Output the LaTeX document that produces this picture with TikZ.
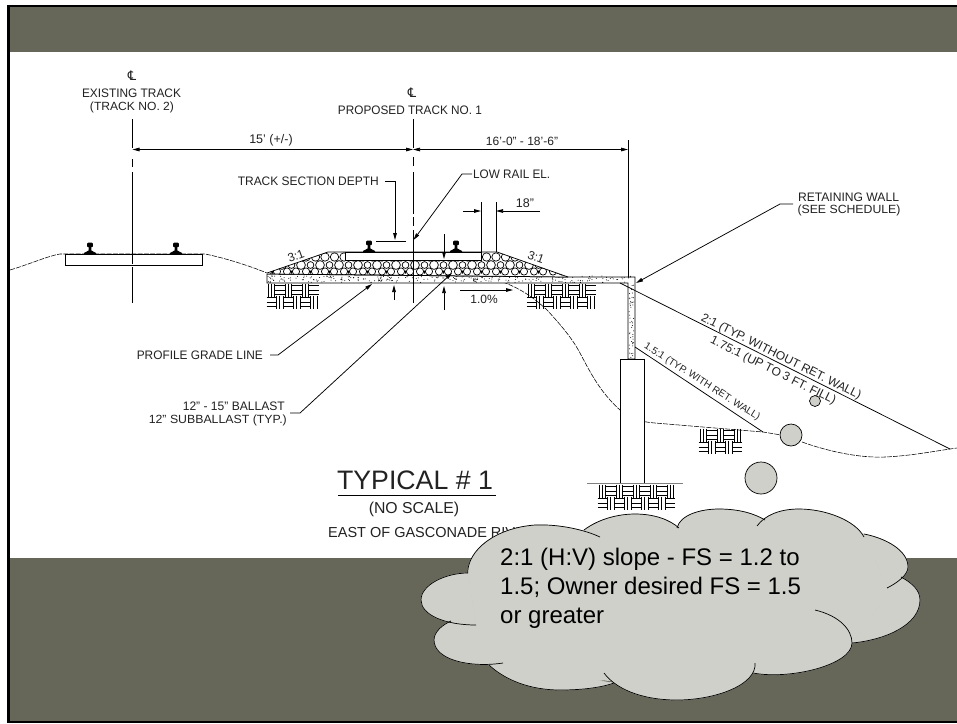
\documentclass[tikz,border=0pt]{standalone}
\usepackage{fontspec}
\usepackage{graphicx}
\usetikzlibrary{arrows.meta}
\setmainfont{Liberation Sans}
\newfontfamily\djv{DejaVu Sans}
\definecolor{bandc}{HTML}{666759}
\definecolor{cloudc}{HTML}{CFD0CA}
\definecolor{inkc}{HTML}{222222}
\tikzset{
  cadtext/.style={text=inkc,inner sep=0pt},
  dimtext/.style={text=inkc,inner sep=0pt,font=\fontsize{12}{14}\selectfont},
  slopetext/.style={text=inkc,inner sep=0pt,font=\fontsize{12}{14}\selectfont},
  cloudtext/.style={inner sep=0pt,anchor=base west,text=black,font=\fontsize{24}{29}\selectfont},
  cltext/.style={inner sep=0pt,text=inkc,font=\djv\fontsize{13}{14}\selectfont},
  ln/.style={draw=black,line width=0.75pt},
  ground/.style={draw=black,line width=0.55pt,dash pattern=on 5pt off 1.2pt},
  arr/.style={ln,-{Triangle[length=7pt,width=3.6pt]}},
  darr/.style={ln,{Triangle[length=7pt,width=3.6pt]}-{Triangle[length=7pt,width=3.6pt]}},
  lobe/.style={draw=black,line width=0.7pt},
  cloudbody/.style={fill=cloudc,draw=cloudc,line width=0.6pt},
  stone/.style={fill=cloudc,draw=black,line width=0.7pt},
  weaveline/.style={draw=black,line width=0.7pt}
}
\newcommand{\fitw}[2]{\resizebox{#1pt}{8.6pt}{#2}}
\newcommand{\trackrail}[2]{%
  \fill[black] (#1-6,#2) -- (#1-6,#2-1) -- (#1-1.4,#2-3.5) -- (#1-1.2,#2-6.5) -- (#1-2.8,#2-7.5)
    -- (#1-2.8,#2-10.5) -- (#1-1.5,#2-11.5) -- (#1+1.5,#2-11.5) -- (#1+2.8,#2-10.5) -- (#1+2.8,#2-7.5)
    -- (#1+1.2,#2-6.5) -- (#1+1.4,#2-3.5) -- (#1+6,#2-1) -- (#1+6,#2) -- cycle;}
\newcommand{\weaveblock}[4]{% x0 y0 cols rows
  \foreach \c in {1,...,#3}{\foreach \r in {1,...,#4}{
    \pgfmathsetmacro{\xa}{#1+(\c-1)*8.5}
    \pgfmathsetmacro{\ya}{#2+(\r-1)*12}
    \pgfmathtruncatemacro{\parit}{mod(\c+\r,2)}
    \ifnum\parit=0
      \foreach \k in {1,4.25,7.5}{\draw[weaveline] (\xa+\k,\ya-0.5) -- (\xa+\k,\ya+12.5);}
    \else
      \foreach \k in {1.5,6,10.5}{\draw[weaveline] (\xa-0.5,\ya+\k) -- (\xa+9,\ya+\k);}
    \fi
  }}}
\newcommand{\lobefill}[1]{\path[cloudbody] #1 -- cycle;}
\newcommand{\lobedraw}[1]{\draw[lobe] #1;}
\newcommand{\cloudlobes}[1]{%
#1{(467.6,573) .. controls (468,550) and (495,528) .. (535,525) .. controls (560,524) and (585,530) .. (600,537)}
#1{(584,530) .. controls (600,518) and (620,514) .. (635,514) .. controls (655,514) and (670,520) .. (679,528)}
#1{(677,528) .. controls (680,515) and (700,509) .. (719,509) .. controls (740,509) and (755,514) .. (765,520)}
#1{(757,526) .. controls (765,515) and (780,509) .. (799,509) .. controls (825,509) and (855,520) .. (864,537)}
#1{(864,534) .. controls (885,538) and (908,550) .. (908,567) .. controls (908,575) and (897,583) .. (887,588)}
#1{(901,577) .. controls (912,583) and (920,590) .. (920,600) .. controls (920,625) and (885,640) .. (852,643)}
#1{(815,610) .. controls (840,616) and (852,630) .. (852,643) .. controls (852,665) and (790,680) .. (753,673)}
#1{(755,663) .. controls (757,685) and (715,700) .. (677,700) .. controls (640,700) and (615,688) .. (604,673)}
#1{(614,683) .. controls (600,688) and (580,690) .. (560,690) .. controls (530,690) and (505,680) .. (489,665)}
#1{(503,663) .. controls (470,668) and (434,660) .. (434,640) .. controls (434,632) and (442,625) .. (451,621)}
#1{(476,625) .. controls (445,625) and (421,615) .. (421,600) .. controls (421,585) and (445,573) .. (468,573)}
}
\begin{document}
\begin{tikzpicture}[x=1pt,y=-1pt]
\useasboundingbox (0,0) rectangle (957,723);
\fill[white] (0,0) rectangle (957,723);
% bands
\fill[bandc] (8,6) rectangle (957,52);
\fill[bandc] (8,558) rectangle (957,722);
\fill[black] (7.3,4.6) rectangle (957,7);
\fill[black] (7.3,4.6) rectangle (9.7,723);
\fill[black] (7.3,721) rectangle (957,723);

% centre lines
\foreach \a/\b in {119/148,159/167,172/257,261/264,267/303}{\draw[ln] (132.5,\a) -- (132.5,\b);}
\foreach \a/\b in {119/148,157/166,172/214,217/226,230/303}{\draw[ln] (413,\a) -- (413,\b);}
\node[cltext] (cl1) at (132,76) {℄};
\node[cltext] (cl2) at (412,93) {℄};
\node[cadtext] (exist1) at (131.5,93) {\fitw{99}{EXISTING TRACK}};
\node[cadtext] (exist2) at (132,107.5) {\fitw{84}{(TRACK NO. 2)}};
\node[cadtext] (prop) at (410,110) {\fitw{144}{PROPOSED TRACK NO. 1}};

% dimension line
\coordinate (d1) at (132.5,149.5);
\coordinate (d2) at (413,149.5);
\coordinate (d3) at (628,149.5);
\draw[darr] (d1) -- (d2);
\draw[darr] (d2) -- (d3);
\draw[ln] (628,140) -- (628,277);
\node[dimtext,font=\fontsize{12.5}{14}\selectfont] (t15) at (271,140) {15' (+/-)};
\node[dimtext] (t16) at (522,141) {16'-0" - 18'-6"};

% ground
\draw[ground] (10,270) .. controls (30,264) and (48,256) .. (60,254) -- (205,254)
  .. controls (225,258) and (250,266) .. (267,273);
\draw[ground] (497,280) .. controls (515,286) and (530,294) .. (547,310)
  .. controls (560,324) and (572,338) .. (580,353) .. controls (590,372) and (600,392) .. (620,410)
  .. controls (630,418) and (640,422) .. (655,423) -- (703,427) -- (763,432) -- (781,435);
\draw[ground] (802,442) .. controls (830,452) and (860,458) .. (885,457) .. controls (910,456) and (935,451) .. (957,448);

% existing track
\draw[ln,fill=white] (65,254) rectangle (202,265);
\draw[ln] (132.5,254) -- (132.5,264);
\trackrail{90}{254}
\trackrail{176}{254}

% subballast slab and wall
\path[fill=white] (267,274) -- (568,277) -- (635,277) -- (635,283) -- (267,283) -- cycle;
\draw[ln] (267,274) -- (267,283) -- (628,283) -- (628,359) -- (635,359) -- (635,277) -- (568,277) -- cycle;
\pgfmathsetseed{11}
\foreach \i in {1,...,260}{
  \pgfmathsetmacro{\dx}{268+rnd*366}
  \pgfmathsetmacro{\dy}{276+rnd*6.5}
  \fill[black] (\dx,\dy) circle (0.5);
}
\foreach \i in {1,...,45}{
  \pgfmathsetmacro{\dx}{629+rnd*5}
  \pgfmathsetmacro{\dy}{284+rnd*74}
  \fill[black] (\dx,\dy) circle (0.5);
}

% ballast
\begin{scope}
\clip (267,273) -- (328,252) -- (497,252) -- (568,277) -- (267,274) -- cycle;
\fill[white] (267,273) -- (328,252) -- (497,252) -- (568,277) -- cycle;
\foreach \n in {0,...,16}{
  \draw[black,line width=0.7pt,fill=white] (258.5+\n*19,257) circle (4.2);
  \draw[black,line width=0.7pt,fill=white] (268+\n*19,257) circle (4.2);
  \draw[black,line width=0.7pt,fill=white] (263+\n*19,265) circle (4.4);
  \draw[black,line width=0.7pt,fill=white] (272.5+\n*19,265) circle (3.4);
  \draw[black,line width=0.7pt,fill=white] (268+\n*19,271.5) circle (3.6);
  \draw[black,line width=0.7pt,fill=white] (277+\n*19,271.5) circle (3.6);
  \fill[black] (272.5+\n*19,270.5) -- ++(-1.5,0) -- ++(1.5,3.5) -- ++(1.5,-3.5) -- cycle;
}
\end{scope}
\draw[ln] (267,273) -- (328,252) -- (497,252) -- (568,277);
\draw[ln,fill=white] (345,252) rectangle (481,260);
\draw[ln] (267,274) -- (568,277);
\draw[ln] (413,230) -- (413,303);
\trackrail{369}{252}
\trackrail{456}{252}
\node[dimtext,rotate=20] (s31a) at (296,256) {3:1};
\node[dimtext,rotate=-20] (s31b) at (536,257) {3:1};

% mesh blocks
\weaveblock{267}{284}{6}{2}
\weaveblock{527}{284}{8}{2}
\weaveblock{699}{429}{5}{2}
\weaveblock{598}{485}{9}{2}

% pier and footing line
\draw[ln,fill=white] (620,359) rectangle (644,483);
\draw[gray,line width=0.5pt] (587,483) -- (683,483);

% slopes
\coordinate (sa1) at (620,283);
\coordinate (sa2) at (950,449);
\coordinate (sb1) at (635,347);
\coordinate (sb2) at (763,432);
\draw[ln] (sa1) -- (sa2);
\draw[ln] (sb1) -- (sb2);
\node[slopetext,rotate=-26.5] (sl1) at (781,357) {2:1 (TYP. WITHOUT RET. WALL)};
\node[slopetext,rotate=-26.5] (sl2) at (773,371) {1.75:1 (UP TO 3 FT. FILL)};
\node[slopetext,rotate=-32.5,font=\fontsize{10}{11}\selectfont] (sl3) at (702,382) {1.5:1 (TYP. WITH RET. WALL)};

% boulders
\draw[stone] (815,401) circle (5.5);
\draw[stone] (791,435) circle (11);
\draw[stone] (761,478) circle (16);

% 18 inch dim
\draw[ln] (481,202) -- (481,252);
\draw[ln] (496,202) -- (496,252);
\coordinate (e1) at (463,211); \coordinate (e2) at (481,211);
\coordinate (e3) at (540,211); \coordinate (e4) at (496,211);
\draw[arr] (e1) -- (e2);
\draw[arr] (e3) -- (e4);
\node[dimtext,font=\fontsize{12.5}{14}\selectfont] (t18) at (525,203) {18"};

% track section depth
\node[cadtext,anchor=east] (tsd) at (379,181) {\fitw{141}{TRACK SECTION DEPTH}};
\coordinate (ta) at (385,181); \coordinate (tb) at (395,181); \coordinate (tc) at (395,240);
\draw[arr] (ta) -- (tb) -- (tc);
\draw[ln] (376,241) -- (406,241);

% low rail
\node[cadtext,anchor=west] (lr) at (473,174) {\fitw{77}{LOW RAIL EL.}};
\coordinate (la) at (472,174); \coordinate (lb) at (462,174); \coordinate (lc) at (413.5,240);
\draw[arr] (la) -- (lb) -- (lc);

% depth arrows
\coordinate (v1) at (444,234); \coordinate (v2) at (444,259);
\coordinate (v3) at (444,310); \coordinate (v4) at (444,286);
\coordinate (v5) at (394,300); \coordinate (v6) at (394,285);
\draw[arr] (v1) -- (v2);
\draw[arr] (v3) -- (v4);
\draw[arr] (v5) -- (v6);

% profile grade
\node[cadtext,anchor=east] (pg) at (263,355.5) {\fitw{126}{PROFILE GRADE LINE}};
\coordinate (pa) at (270,355); \coordinate (pb) at (278,355); \coordinate (pc) at (372,284);
\draw[arr] (pa) -- (pb) -- (pc);

% ballast leader
\node[cadtext,anchor=east] (bl1) at (285,406) {\fitw{102}{12" - 15" BALLAST}};
\node[cadtext,anchor=east] (bl2) at (287,420) {\fitw{138}{12" SUBBALLAST (TYP.)}};
\coordinate (ba) at (290,413); \coordinate (bb) at (300,413); \coordinate (bc) at (452,273);
\draw[arr] (ba) -- (bb) -- (bc);

% 1 percent
\coordinate (g1) at (460,290); \coordinate (g2) at (513,290);
\draw[arr] (g1) -- (g2);
\node[dimtext] (g3) at (484,299) {1.0\%};

% retaining wall
\node[cadtext] (rw1) at (848.5,197) {\fitw{101}{RETAINING WALL}};
\node[cadtext] (rw2) at (849,210) {\fitw{103}{(SEE SCHEDULE)}};
\coordinate (ra) at (793,204); \coordinate (rb) at (780,204); \coordinate (rc) at (636,283);
\draw[arr] (ra) -- (rb) -- (rc);

% title
\node[inner sep=0pt,text=inkc,anchor=base,font=\fontsize{26.7}{30}\selectfont] (ty) at (415,489) {TYPICAL \# 1};
\draw[black,line width=1pt] (338,495) -- (496,495);
\node[inner sep=0pt,text=inkc,font=\fontsize{15.8}{18}\selectfont] (ns) at (414,509) {(NO SCALE)};
\node[inner sep=0pt,text=inkc,anchor=west,font=\fontsize{14.5}{16}\selectfont] (ea) at (328,532) {EAST OF GASCONADE RIVER};

% cloud
\path[cloudbody] (468,573) -- (584,530) -- (679,528) -- (765,520) -- (757,526) -- (864,534) -- (887,588) -- (901,577) -- (852,643) -- (753,673) -- (677,690) -- (604,680) -- (560,685) -- (489,665) -- (451,621) -- (476,625) -- cycle;
\cloudlobes{\lobefill}
\cloudlobes{\lobedraw}
\node[cloudtext] (c1) at (500,565) {2:1 (H:V) slope - FS = 1.2 to};
\node[cloudtext] (c2) at (500,594) {1.5; Owner desired FS = 1.5};
\node[cloudtext] (c3) at (500,623) {or greater};
\end{tikzpicture}
\end{document}
